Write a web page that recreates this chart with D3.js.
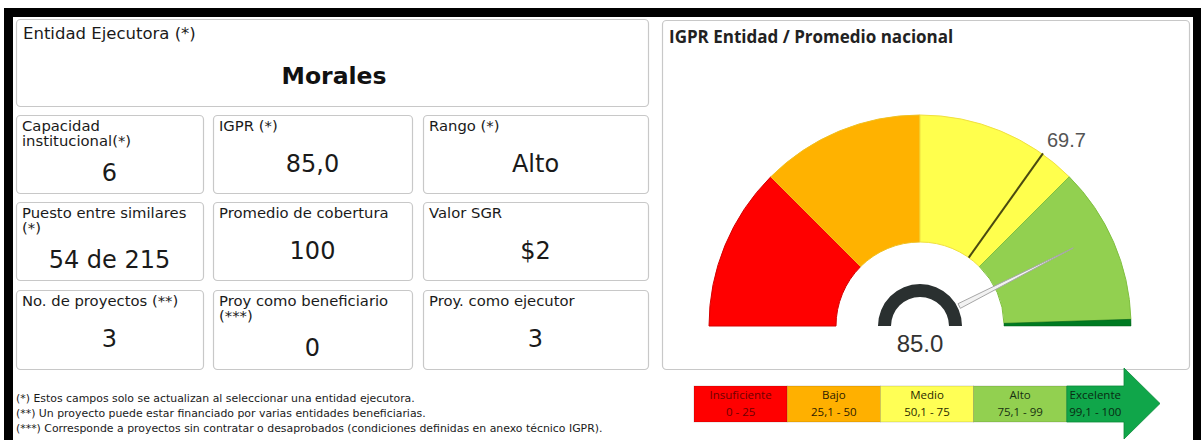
<!DOCTYPE html>
<html>
<head>
<meta charset="utf-8">
<script src="https://cdn.jsdelivr.net/npm/d3@7"></script>
<style>
  html, body { margin: 0; padding: 0; background: #fff; }
  svg { display: block; }
</style>
</head>
<body>
<svg id="chart" width="1201" height="440"></svg>
<script>
// ---- Data ----
const entityName = "Morales";
const entityLabel = "Entidad Ejecutora (*)";

const cardLabels = [
  ["Capacidad", "institucional(*)"], ["IGPR (*)"], ["Rango (*)"],
  ["Puesto entre similares", "(*)"], ["Promedio de cobertura"], ["Valor SGR"],
  ["No. de proyectos (**)"], ["Proy como beneficiario", "(***)"], ["Proy. como ejecutor"]
];
const cardValues = ["6", "85,0", "Alto", "54 de 215", "100", "$2", "3", "0", "3"];

const footnotes = [
  "(*) Estos campos solo se actualizan al seleccionar una entidad ejecutora.",
  "(**) Un proyecto puede estar financiado por varias entidades beneficiarias.",
  "(***) Corresponde a proyectos sin contratar o desaprobados (condiciones definidas en anexo técnico IGPR)."
];

const gaugeTitle = "IGPR Entidad / Promedio nacional";
const bandNames = ["Insuficiente", "Bajo", "Medio", "Alto", "Excelente"];
const bandRanges = ["0 - 25", "25,1 - 50", "50,1 - 75", "75,1 - 99", "99,1 - 100"];
const bandStarts = [0, 25, 50, 75, 99];
const bandEnds = [25, 50, 75, 99, 100];
const entityScore = 85.0;
const nationalAverage = 69.7;

// ---- Styles ----
const bandFill = ["#ff0000", "#ffb200", "#ffff4d", "#92d050", "#007a22"];
const bandEdge = ["#d40000", "#f0c020", "#f0e040", "#80c040", "#006018"];
const legendFill = ["#ff0000", "#ffb000", "#ffff55", "#92d050", "#10a64a"];
const legendText = ["#6e0000", "#2e2000", "#2a2a00", "#183010", "#082a12"];

const svg = d3.select("#chart");
const textFont = "'DejaVu Sans', Verdana, sans-serif";

// ---- Frame ----
svg.append("rect").attr("x", 4).attr("y", 8).attr("width", 1197).attr("height", 9).attr("fill", "#000");
svg.append("rect").attr("x", 4).attr("y", 8).attr("width", 9).attr("height", 432).attr("fill", "#000");
svg.append("rect").attr("x", 1193).attr("y", 8).attr("width", 8).attr("height", 432).attr("fill", "#000");

function box(x, y, w, h) {
  svg.append("rect")
    .attr("x", x + 0.5).attr("y", y + 0.5).attr("width", w).attr("height", h)
    .attr("rx", 4).attr("fill", "#fff").attr("stroke", "#c8c8c8").attr("stroke-width", 1.2);
}

// ---- Entity header ----
box(16, 19, 632, 87);
svg.append("text").attr("x", 23).attr("y", 39)
  .attr("font-family", textFont).attr("font-size", 16.5).attr("fill", "#1a1a1a")
  .text(entityLabel);
svg.append("text").attr("x", 334).attr("y", 84).attr("text-anchor", "middle")
  .attr("font-family", textFont).attr("font-size", 23.5).attr("font-weight", "bold").attr("fill", "#111")
  .text(entityName);

// ---- Indicator cards ----
const colX = [16, 213, 423], colW = [187, 199, 225];
const rowY = [115, 202, 290], rowH = [78, 78, 79];
cardLabels.forEach((lines, i) => {
  const c = i % 3, r = Math.floor(i / 3);
  const x = colX[c], y = rowY[r];
  box(x, y, colW[c], rowH[r]);
  const g = svg.append("g");
  lines.forEach((ln, k) => {
    g.append("text").attr("x", x + 6).attr("y", y + 16 + k * 15)
      .attr("font-family", textFont).attr("font-size", 14.8).attr("fill", "#1a1a1a")
      .text(ln);
  });
  g.append("text").attr("x", x + colW[c] / 2).attr("y", y + (lines.length > 1 ? 66 : 57))
    .attr("text-anchor", "middle")
    .attr("font-family", textFont).attr("font-size", 24).attr("fill", "#1a1a1a")
    .text(cardValues[i]);
});

// ---- Footnotes ----
footnotes.forEach((t, i) => {
  svg.append("text").attr("x", 16).attr("y", 402 + i * 15)
    .attr("font-family", textFont).attr("font-size", 10.9).attr("fill", "#1a1a1a")
    .text(t);
});

// ---- Gauge panel ----
box(662, 20, 527, 349);
svg.append("text").attr("x", 669).attr("y", 43)
  .attr("font-family", "'Open Sans', sans-serif").attr("font-size", 17).attr("font-weight", "bold")
  .attr("fill", "#222").text(gaugeTitle);

const cx = 920, cy = 326, rOuter = 211, rInner = 84;
const angle = d3.scaleLinear().domain([0, 100]).range([-Math.PI / 2, Math.PI / 2]);
const gauge = svg.append("g").attr("transform", `translate(${cx},${cy})`);
const arc = d3.arc().innerRadius(rInner).outerRadius(rOuter);

bandStarts.forEach((s, i) => {
  const e = bandEnds[i];
  const isLast = i === bandStarts.length - 1;
  gauge.append("path")
    .attr("d", arc({ startAngle: angle(s), endAngle: angle(e),
      innerRadius: isLast ? rInner - 2 : rInner }))
    .attr("fill", bandFill[i])
    .attr("stroke", bandEdge[i]).attr("stroke-width", isLast ? 0.5 : 1);
});

// National average marker
const polar = (v, r) => {
  const a = angle(v);
  return [r * Math.sin(a), -r * Math.cos(a)];
};
const avgIn = polar(nationalAverage, rInner), avgOut = polar(nationalAverage, rOuter + 1);
gauge.append("line")
  .attr("x1", avgIn[0]).attr("y1", avgIn[1]).attr("x2", avgOut[0]).attr("y2", avgOut[1])
  .attr("stroke", "#4a4a10").attr("stroke-width", 2);
gauge.append("text")
  .attr("x", avgOut[0] + 4).attr("y", avgOut[1] - 6)
  .attr("font-family", "'Liberation Sans', Arial, sans-serif").attr("font-size", 20)
  .attr("fill", "#555").text(nationalAverage.toFixed(1));

// Hub
gauge.append("path")
  .attr("d", d3.arc()({ innerRadius: 29, outerRadius: 42, startAngle: -Math.PI / 2, endAngle: Math.PI / 2 }))
  .attr("fill", "#2a3030");

// Needle for entity score
const nA = angle(entityScore);
const ux = Math.sin(nA), uy = -Math.cos(nA), px = -uy, py = ux;
const rBase = 44, rTip = 172, half = 2.6;
const needle = [
  [ux * rBase + px * half, uy * rBase + py * half],
  [ux * rTip, uy * rTip],
  [ux * rBase - px * half, uy * rBase - py * half]
];
gauge.append("path")
  .attr("d", d3.line()(needle) + "Z")
  .attr("fill", "#f2f2f2").attr("stroke", "#a6a6a6").attr("stroke-width", 1);

gauge.append("text").attr("x", 0).attr("y", 352 - cy).attr("text-anchor", "middle")
  .attr("font-family", "'Liberation Sans', Arial, sans-serif").attr("font-size", 24)
  .attr("fill", "#333").text(entityScore.toFixed(1));

// ---- Range legend ----
const legX0 = 694, legW = 93.2, legY = 386, legH = 36;
const legend = svg.append("g");
bandNames.forEach((name, i) => {
  const x = legX0 + i * legW;
  if (i < 4) {
    legend.append("rect").attr("x", x).attr("y", legY).attr("width", legW).attr("height", legH)
      .attr("fill", legendFill[i]).attr("stroke", "rgba(0,0,0,0.18)").attr("stroke-width", 0.8);
  } else {
    const shaftEnd = 1124, tip = 1160;
    legend.append("path")
      .attr("d", d3.line()([[x, legY], [shaftEnd, legY], [shaftEnd, 368], [tip, 403.5],
        [shaftEnd, 439], [shaftEnd, legY + legH], [x, legY + legH]]) + "Z")
      .attr("fill", legendFill[i]).attr("stroke", "#0b8a38").attr("stroke-width", 0.8);
  }
  const tx = i < 4 ? x + legW / 2 : x + 28.5;
  legend.append("text").attr("x", tx).attr("y", legY + 13).attr("text-anchor", "middle")
    .attr("font-family", "'Open Sans', sans-serif").attr("font-size", 11.5)
    .attr("fill", legendText[i]).text(name);
  legend.append("text").attr("x", tx).attr("y", legY + 30).attr("text-anchor", "middle")
    .attr("font-family", "'Open Sans', sans-serif").attr("font-size", 11.5)
    .attr("fill", legendText[i]).text(bandRanges[i]);
});
</script>
</body>
</html>
